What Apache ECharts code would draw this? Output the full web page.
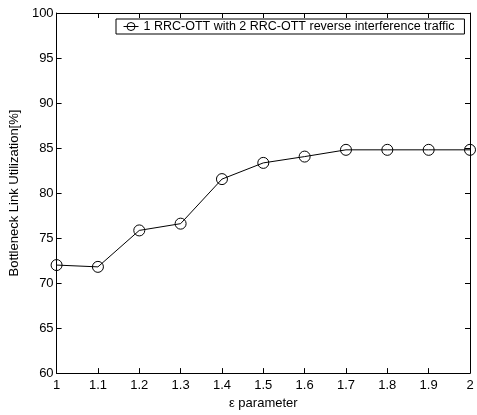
<!DOCTYPE html>
<html><head><meta charset="utf-8">
<script src="https://cdn.jsdelivr.net/npm/echarts@6/dist/echarts.min.js"></script>
<style>html,body{margin:0;padding:0;background:#fff}#c{width:477px;height:415px}</style>
</head><body><div id="c"></div>
<script>
const xValues = [1, 1.1, 1.2, 1.3, 1.4, 1.5, 1.6, 1.7, 1.8, 1.9, 2];
const utilization = [72.0, 71.8, 75.85, 76.6, 81.55, 83.35, 84.05, 84.8, 84.8, 84.8, 84.8];
const seriesName = '1 RRC-OTT with 2 RRC-OTT reverse interference traffic';
const xTitle = 'ε parameter';
const yTitle = 'Bottleneck Link Utilization[%]';

const font = 'Liberation Sans, Arial, sans-serif';
const chart = echarts.init(document.getElementById('c'));
const axisCommon = {
  axisLine: {show: true, lineStyle: {color: '#000', width: 1}},
  axisTick: {show: true, inside: true, length: 5, lineStyle: {color: '#000'}},
  splitLine: {show: false}
};
chart.setOption({
  animation: false,
  backgroundColor: '#fff',
  grid: {left: 54, right: 7, top: 13, bottom: 40},
  legend: {
    left: 116, top: 19,
    borderColor: '#000', borderWidth: 1, padding: [1, 10, 1, 7],
    itemWidth: 15, itemHeight: 10, itemGap: 5,
    lineStyle: {width: 1, color: '#000'},
    itemStyle: {color: 'transparent', borderColor: '#000', borderWidth: 1},
    textStyle: {fontFamily: font, fontSize: 12.5, color: '#000'},
    data: [seriesName]
  },
  xAxis: [
    Object.assign({type: 'value', min: 1, max: 2, interval: 0.1,
      name: xTitle, nameLocation: 'middle', nameGap: 22,
      nameTextStyle: {fontFamily: font, fontSize: 13, color: '#000'},
      axisLabel: {fontFamily: font, fontSize: 13, color: '#000', margin: 6,
        formatter: v => String(Math.round(v * 10) / 10)}}, axisCommon),
    Object.assign({type: 'value', min: 1, max: 2, interval: 0.1, position: 'top',
      axisLabel: {show: false}}, axisCommon)
  ],
  yAxis: [
    Object.assign({type: 'value', min: 60, max: 100, interval: 5,
      name: yTitle, nameLocation: 'middle', nameGap: 25,
      nameTextStyle: {fontFamily: font, fontSize: 13, color: '#000'},
      axisLabel: {fontFamily: font, fontSize: 13, color: '#000', margin: 3}}, axisCommon),
    Object.assign({type: 'value', min: 60, max: 100, interval: 5, position: 'right',
      axisLabel: {show: false}}, axisCommon)
  ],
  series: [{
    name: seriesName,
    type: 'line',
    data: xValues.map((x, i) => [x, utilization[i]]),
    symbol: 'circle', symbolSize: 11,
    lineStyle: {color: '#000', width: 1},
    itemStyle: {color: 'transparent', borderColor: '#000', borderWidth: 1}
  }]
});
</script></body></html>
